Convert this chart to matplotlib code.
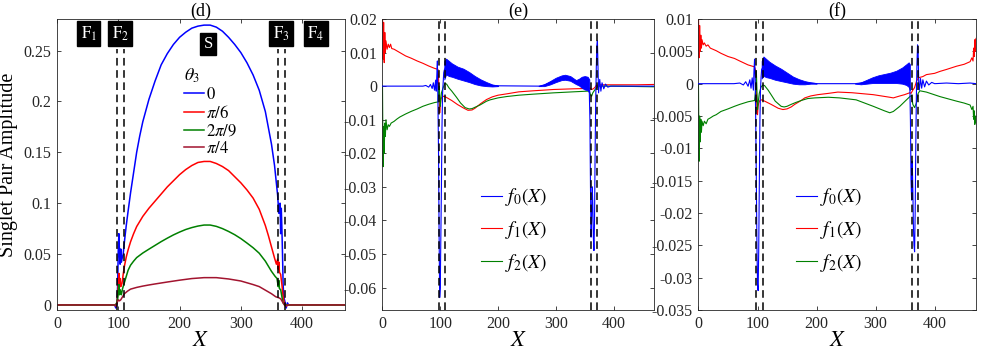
import numpy as np
import matplotlib
matplotlib.use("Agg")
import matplotlib.pyplot as plt
from matplotlib.ticker import FuncFormatter

plt.rcParams['font.family'] = ['Liberation Serif', 'DejaVu Serif']
plt.rcParams['mathtext.fontset'] = 'stix'
plt.rcParams['axes.unicode_minus'] = False

# ---- panel (d) : singlet pair amplitude for several theta_3
xd_0 = [0, 90, 94, 96, 98, 99, 100, 101, 102, 103, 104, 105, 106, 108, 110, 113, 116, 120, 125, 130, 135, 140,
        150, 160, 170, 180, 190, 200, 210, 220, 230, 240, 250, 260, 270, 280, 290, 300, 310, 320, 330, 340,
        350, 355, 360, 362, 364, 365, 366, 367, 368, 369, 370, 372, 374, 376, 378, 470]
yd_0 = [0, 0, 0, -0.003, 0.002, 0.02, 0.055, 0.07, 0.05, 0.04, 0.055, 0.042, 0.045, 0.05, 0.062, 0.078,
        0.092, 0.11, 0.13, 0.15, 0.166, 0.18, 0.202, 0.22, 0.236, 0.247, 0.256, 0.263, 0.268, 0.272, 0.274,
        0.275, 0.275, 0.273, 0.269, 0.263, 0.256, 0.248, 0.238, 0.226, 0.211, 0.19, 0.158, 0.137, 0.108,
        0.09, 0.1, 0.07, 0.095, 0.075, 0.05, 0.02, 0.008, 0.003, -0.003, 0.002, 0, 0]

xd_1 = [0, 94, 96, 98, 100, 101, 102, 103, 104, 106, 108, 110, 113, 116, 120, 125, 130, 140, 150, 160, 170,
        180, 190, 200, 210, 220, 230, 240, 250, 260, 270, 280, 290, 300, 310, 320, 330, 340, 345, 350, 355,
        358, 360, 361, 362, 363, 365, 367, 369, 371, 374, 378, 470]
yd_1 = [0, 0, -0.001, 0.003, 0.02, 0.031, 0.02, 0.026, 0.018, 0.021, 0.03, 0.038, 0.047, 0.054, 0.062,
        0.07, 0.077, 0.087, 0.095, 0.102, 0.109, 0.116, 0.122, 0.128, 0.133, 0.137, 0.14, 0.141, 0.141,
        0.139, 0.136, 0.132, 0.126, 0.12, 0.113, 0.105, 0.094, 0.078, 0.068, 0.057, 0.046, 0.04, 0.045,
        0.035, 0.042, 0.032, 0.03, 0.02, 0.008, 0.002, -0.001, 0, 0]

xd_2 = [0, 94, 97, 99, 100, 101, 102, 103, 105, 107, 110, 113, 116, 120, 125, 130, 140, 150, 160, 170, 180,
        190, 200, 210, 220, 230, 240, 250, 260, 270, 280, 290, 300, 310, 320, 330, 340, 345, 350, 356, 359,
        361, 362, 363, 365, 367, 369, 372, 470]
yd_2 = [0, 0, 0.001, 0.006, 0.012, 0.02, 0.01, 0.015, 0.01, 0.016, 0.022, 0.028, 0.034, 0.039, 0.043,
        0.0465, 0.051, 0.0548, 0.0585, 0.0622, 0.0656, 0.0688, 0.0716, 0.0741, 0.076, 0.0775, 0.0785, 0.0785,
        0.0772, 0.075, 0.0722, 0.069, 0.0652, 0.0608, 0.0562, 0.0508, 0.043, 0.038, 0.033, 0.028, 0.026,
        0.018, 0.024, 0.016, 0.015, 0.008, 0.002, 0, 0]

xd_3 = [0, 94, 96, 98, 100, 102, 104, 106, 108, 110, 115, 120, 130, 140, 150, 160, 180, 200, 220, 240, 260,
        280, 300, 320, 330, 340, 350, 357, 362, 365, 367, 369, 371, 373, 376, 470]
yd_3 = [0, 0, -0.001, 0.002, 0.005, 0.004, 0.005, 0.007, 0.009, 0.011, 0.0135, 0.0155, 0.0172, 0.0185,
        0.0196, 0.0206, 0.0225, 0.0243, 0.0259, 0.0268, 0.0268, 0.0255, 0.0235, 0.02, 0.018, 0.0145, 0.011,
        0.008, 0.007, 0.006, 0.004, 0.002, 0, -0.001, 0, 0]

theta_labels = [r'$0$', r'$\pi/6$', r'$2\pi/9$', r'$\pi/4$']
region_labels = [r'$\mathrm{F}_1$', r'$\mathrm{F}_2$', 'S', r'$\mathrm{F}_3$', r'$\mathrm{F}_4$']
region_x = [52, 103, 247, 365.5, 422.5]
region_y = [0.2665, 0.2665, 0.2566, 0.2665, 0.2665]
interfaces = [98, 109, 361, 372]

# ---- panel (e)
xe_f0 = [0, 60, 70, 75, 80, 83, 86, 88, 90, 92, 93, 94, 95, 96, 97, 98, 99, 100, 101, 102, 103, 104, 105,
         106, 107, 110, 115, 120, 130, 140, 150, 160, 170, 180, 190, 200, 270, 280, 290, 300, 310, 316, 325,
         335, 340, 345, 350, 355, 358, 359, 360, 361, 362, 363, 364, 365, 366, 367, 368, 369, 370, 371, 372,
         373, 374, 376, 378, 380, 383, 386, 390, 395, 470]
ye_f0 = [0, 0, 0, 0.0002, -0.0003, 0.0005, -0.0007, 0.001, -0.0012, 0.0018, -0.0015, 0.003, 0.0075, -0.005,
         -0.02, -0.045, -0.063, -0.06, -0.045, -0.03, -0.012, -0.002, 0.001, 0.004, 0.0048, 0.0058, 0.0052,
         0.0048, 0.004, 0.0035, 0.0027, 0.0018, 0.0011, 0.0006, 0.0002, 0.0001, 0, 0.0003, 0.001, 0.0018,
         0.0025, 0.0027, 0.0023, 0.0012, 0.0012, 0.0012, 0.001, 0.0008, -0.002, -0.01, -0.03, -0.045, -0.04,
         -0.03, -0.035, -0.045, -0.049, -0.04, -0.02, -0.005, 0.005, 0.012, 0.0135, 0.006, -0.002, 0.002,
         -0.0015, 0.001, -0.0008, 0.0006, -0.0003, 0, 0]
xe_band1 = [107, 110, 115, 120, 130, 140, 150, 160, 170, 180, 190, 200]
ye_band1_hi = [0.0075, 0.0082, 0.0075, 0.0068, 0.0058, 0.0052, 0.0042, 0.003, 0.002, 0.0012, 0.0005, 0.0002]
ye_band1_lo = [0.002, 0.0035, 0.003, 0.0028, 0.0022, 0.0017, 0.0012, 0.0006, 0.0002, 0, -0.0001, 0]
xe_band2 = [270, 280, 290, 300, 310, 316, 325, 335, 340, 345, 350, 355, 358]
ye_band2_hi = [0, 0.0006, 0.0015, 0.0025, 0.0032, 0.0034, 0.003, 0.0018, 0.0022, 0.0028, 0.003, 0.0028, 0.002]
ye_band2_lo = [0, 0, 0.0005, 0.0012, 0.0018, 0.0019, 0.0016, 0.0006, 0.0002, -0.0005, -0.001, -0.0012, -0.002]

xe_f1 = [0, 1, 2, 3, 4, 5, 6, 8, 10, 12, 14, 16, 20, 25, 30, 40, 50, 60, 70, 80, 90, 96, 97, 98, 99, 100,
         101, 102, 105, 110, 120, 130, 140, 148, 155, 160, 170, 180, 190, 200, 215, 236, 260, 296, 330, 354,
         360, 362, 365, 368, 370, 375, 400, 440, 470]
ye_f1 = [0.022, 0.008, 0.019, 0.007, 0.016, 0.01, 0.0135, 0.011, 0.0125, 0.0115, 0.0125, 0.0112, 0.011,
         0.0105, 0.01, 0.009, 0.0083, 0.0075, 0.0068, 0.006, 0.0053, 0.005, 0.003, -0.004, -0.008, -0.006,
         -0.004, -0.0035, -0.003, -0.0033, -0.0043, -0.0055, -0.0065, -0.0072, -0.0071, -0.0066, -0.0052,
         -0.004, -0.0032, -0.0027, -0.0023, -0.0017, -0.0014, -0.001, -0.0008, -0.0007, -0.0006, -0.001,
         -0.0008, -0.0003, 0.0002, 0.0004, 0.0004, 0.0004, 0.0005]

xe_f2 = [0, 1, 2, 3, 4, 5, 6, 8, 10, 12, 15, 20, 25, 30, 40, 50, 60, 70, 80, 90, 96, 97, 98, 99, 100, 101,
         102, 104, 106, 108, 111, 115, 120, 128, 135, 143, 150, 155, 160, 169, 180, 186, 200, 215, 236, 260,
         296, 330, 354, 358, 360, 362, 364, 368, 372, 375, 400, 470]
ye_f2 = [0, -0.024, -0.012, -0.02, -0.011, -0.015, -0.01, -0.013, -0.0115, -0.012, -0.011, -0.0105,
         -0.0098, -0.0092, -0.0083, -0.0075, -0.0068, -0.006, -0.0054, -0.0049, -0.0047, -0.002, 0, -0.003,
         -0.006, -0.004, -0.002, -0.001, 0, 0.0008, 0.0006, -0.0005, -0.0015, -0.0033, -0.005, -0.0064,
         -0.0068, -0.0067, -0.0063, -0.0056, -0.0045, -0.0041, -0.0035, -0.0031, -0.0027, -0.0024, -0.002,
         -0.0017, -0.0015, -0.0015, -0.0025, -0.003, -0.002, -0.001, -0.0002, 0, 0, -0.0002]

# ---- panel (f)
xf_f0 = [0, 60, 70, 76, 80, 84, 87, 89, 91, 93, 94, 95, 96, 97, 98, 99, 100, 101, 102, 103, 104, 105, 106,
         107, 110, 115, 120, 130, 140, 150, 160, 170, 180, 190, 200, 265, 275, 285, 295, 305, 315, 325, 335,
         345, 352, 356, 358, 359, 360, 361, 362, 363, 364, 365, 366, 367, 368, 369, 370, 371, 372, 373, 374,
         376, 378, 380, 383, 386, 390, 395, 400, 420, 440, 460, 470]
yf_f0 = [0, 0, 0.0001, -0.0002, 0.0003, -0.0004, 0.0006, -0.0007, 0.0009, -0.001, 0.002, 0.0038, 0.001,
         -0.006, -0.015, -0.025, -0.031, -0.032, -0.026, -0.016, -0.006, -0.001, 0.001, 0.0022, 0.0027,
         0.0024, 0.0021, 0.0017, 0.0013, 0.0009, 0.0005, 0.0003, 0.0001, 0.0001, 0, 0, 0.0001, 0.0003,
         0.0005, 0.0007, 0.0008, 0.0009, 0.001, 0.0012, 0.0014, 0.0014, -0.0005, -0.006, -0.015, -0.018,
         -0.012, -0.016, -0.022, -0.025, -0.026, -0.02, -0.01, -0.002, 0.003, 0.006, 0.005, 0, -0.001, 0.0008,
         -0.0007, 0.0006, -0.0005, 0.0004, -0.0002, 0.0002, 0, 0.0001, 0, 0.0001, 0]
xf_band1 = [107, 110, 115, 120, 130, 140, 150, 160, 170, 180, 190, 200]
yf_band1_hi = [0.0035, 0.0042, 0.0038, 0.0034, 0.0028, 0.0023, 0.0017, 0.0011, 0.0007, 0.0004, 0.0002, 0.0001]
yf_band1_lo = [0.0008, 0.0012, 0.001, 0.0009, 0.0006, 0.0004, 0.0002, 0, -0.0001, -0.0001, 0, 0]
xf_band2 = [265, 275, 285, 295, 305, 315, 325, 335, 345, 352, 356, 358]
yf_band2_hi = [0, 0.0002, 0.0006, 0.001, 0.0013, 0.0015, 0.0017, 0.002, 0.0025, 0.003, 0.0033, 0.003]
yf_band2_lo = [0, -0.0001, 0, 0.0001, 0.0001, 0.0001, 0.0001, 0.0001, 0, -0.0002, -0.0005, -0.001]

xf_f1 = [0, 1, 2, 3, 4, 5, 6, 8, 10, 13, 16, 20, 25, 30, 38, 50, 61, 70, 84, 95, 97, 98, 99, 100, 101, 102,
         104, 107, 112, 123, 135, 143, 150, 157, 163, 174, 180, 190, 202, 220, 236, 260, 296, 310, 324, 330,
         341, 349, 358, 360, 363, 366, 369, 372, 380, 386, 400, 409, 420, 437, 450, 460, 463, 465, 466, 467,
         468, 469, 470]
yf_f1 = [0.011, 0.004, 0.009, 0.005, 0.0075, 0.0055, 0.0068, 0.006, 0.0063, 0.0058, 0.006, 0.0055, 0.0053,
         0.0051, 0.0047, 0.0042, 0.0039, 0.0035, 0.0029, 0.0026, 0.002, -0.001, -0.004, -0.0048, -0.0035,
         -0.003, -0.0026, -0.0025, -0.0027, -0.0032, -0.0038, -0.004, -0.0039, -0.0036, -0.0032, -0.0026,
         -0.0022, -0.0019, -0.0017, -0.0015, -0.0013, -0.0014, -0.0017, -0.0019, -0.0021, -0.0022, -0.0019,
         -0.0017, -0.0014, -0.0015, -0.001, -0.0006, 0.0003, 0.0009, 0.0011, 0.0014, 0.0016, 0.0019, 0.0022,
         0.0027, 0.003, 0.0034, 0.004, 0.0035, 0.0055, 0.0042, 0.0068, 0.005, 0.007]

xf_f2 = [0, 1, 2, 3, 4, 5, 6, 8, 10, 13, 16, 20, 25, 30, 38, 50, 61, 70, 84, 95, 97, 98, 99, 100, 101, 103,
         106, 109, 112, 118, 123, 130, 140, 145, 150, 157, 165, 174, 185, 197, 220, 239, 267, 296, 315, 324,
         330, 341, 350, 358, 361, 363, 366, 369, 372, 375, 386, 409, 437, 450, 460, 463, 465, 466, 467, 468,
         469, 470]
yf_f2 = [0, -0.012, -0.005, -0.009, -0.0055, -0.0075, -0.0058, -0.0065, -0.0058, -0.0062, -0.0055, -0.0053,
         -0.005, -0.0048, -0.0043, -0.0039, -0.0035, -0.0032, -0.0028, -0.0026, -0.001, 0.002, -0.001, -0.004,
         -0.003, -0.0015, -0.0005, -0.0002, -0.0003, -0.001, -0.0017, -0.0027, -0.0035, -0.0036, -0.0035,
         -0.0032, -0.0029, -0.0026, -0.0023, -0.0022, -0.0021, -0.0022, -0.0025, -0.0035, -0.0042, -0.0045,
         -0.0043, -0.0035, -0.0027, -0.002, -0.0018, -0.0032, -0.0037, -0.003, -0.0015, -0.0011, -0.0013,
         -0.002, -0.0027, -0.003, -0.0033, -0.004, -0.0035, -0.0055, -0.0042, -0.0063, -0.005, -0.006]

f_labels = [r'$f_0(X)$', r'$f_1(X)$', r'$f_2(X)$']

blue = '#0000ff'
red = '#ff0000'
green = '#008000'
maroon = '#a2142f'
axc = '#262626'


def fmt(v, pos):
    s = ('%.3f' % v).rstrip('0').rstrip('.')
    if s in ('-0', ''):
        s = '0'
    return s


def style(ax, ylim, yticks):
    ax.set_xlim(0, 470)
    ax.set_ylim(*ylim)
    ax.set_xticks([0, 100, 200, 300, 400])
    ax.set_yticks(yticks)
    ax.yaxis.set_major_formatter(FuncFormatter(fmt))
    ax.tick_params(direction='in', length=3, width=0.6, colors=axc, labelsize=11.5,
                   top=True, right=True, pad=4)
    for s in ax.spines.values():
        s.set_color(axc)
        s.set_linewidth(0.6)
    ax.set_xlabel(r'$X$', fontsize=16, labelpad=0)


fig = plt.figure(figsize=(9.81, 3.54), dpi=100)
axd = fig.add_axes([0.0581, 0.1243, 0.2936, 0.822])
axe = fig.add_axes([0.3899, 0.1243, 0.2768, 0.822])
axf = fig.add_axes([0.7120, 0.1243, 0.2829, 0.822])

# (d)
for xs, ys, c, lab in zip([xd_0, xd_1, xd_2, xd_3], [yd_0, yd_1, yd_2, yd_3],
                          [blue, red, green, maroon], theta_labels):
    axd.plot(xs, ys, color=c, lw=1.1, label=lab)
axd.vlines(interfaces, -0.005, 0.252, colors='k', linestyles=(0, (5, 3)), lw=1.1)
for t, xx, yy in zip(region_labels, region_x, region_y):
    axd.text(xx, yy, t, color='white', fontsize=12, ha='center', va='center',
             bbox=dict(boxstyle='square,pad=0.2', facecolor='black', edgecolor='black'))
style(axd, (-0.005, 0.281), [0, 0.05, 0.1, 0.15, 0.2, 0.25])
axd.set_ylabel('Singlet Pair Amplitude', fontsize=14.5, labelpad=4)
axd.set_title('(d)', fontsize=13, pad=2)
leg = axd.legend(loc='upper left', bbox_to_anchor=(0.44, 0.835), frameon=False, fontsize=12,
                 title=r'$\theta_3$', title_fontsize=13, handlelength=1.2, handletextpad=0.15,
                 labelspacing=0.1, borderpad=0, borderaxespad=0, alignment='left')

# (e) and (f)
panels = [(axe, xe_f0, ye_f0, xe_band1, ye_band1_lo, ye_band1_hi, xe_band2, ye_band2_lo, ye_band2_hi,
           xe_f1, ye_f1, xe_f2, ye_f2, (-0.0667, 0.02),
           [-0.06, -0.05, -0.04, -0.03, -0.02, -0.01, 0, 0.01, 0.02], '(e)', 0.362),
          (axf, xf_f0, yf_f0, xf_band1, yf_band1_lo, yf_band1_hi, xf_band2, yf_band2_lo, yf_band2_hi,
           xf_f1, yf_f1, xf_f2, yf_f2, (-0.035, 0.01),
           [-0.035, -0.03, -0.025, -0.02, -0.015, -0.01, -0.005, 0, 0.005, 0.01], '(f)', 0.350)]

for (ax, x0, y0, b1x, b1lo, b1hi, b2x, b2lo, b2hi, x1, y1, x2, y2, ylim, yt, title, lx) in panels:
    ax.plot(x0, y0, color=blue, lw=0.8, label=f_labels[0], zorder=3)
    ax.fill_between(b1x, b1lo, b1hi, color=blue, lw=0.6, zorder=3)
    ax.fill_between(b2x, b2lo, b2hi, color=blue, lw=0.6, zorder=3)
    ax.plot(x1, y1, color=red, lw=0.8, label=f_labels[1], zorder=2)
    ax.plot(x2, y2, color=green, lw=0.8, label=f_labels[2], zorder=2)
    for xi in interfaces:
        ax.axvline(xi, color='k', ls=(0, (5, 3)), lw=1.1, zorder=4)
    style(ax, ylim, yt)
    ax.set_title(title, fontsize=13, pad=2)
    ax.legend(loc='upper left', bbox_to_anchor=(lx, 0.425), frameon=False, fontsize=14,
              handlelength=1.1, handletextpad=0.15, labelspacing=0.55, borderpad=0, borderaxespad=0)

fig.savefig('out.png', dpi=100)
